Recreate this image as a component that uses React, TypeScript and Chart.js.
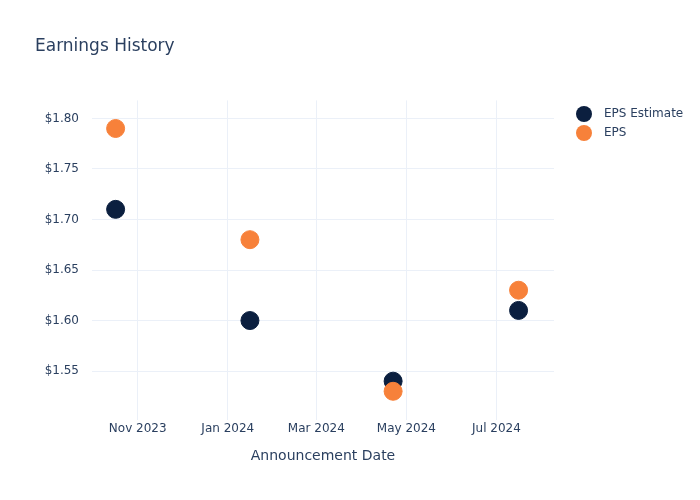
import React, { useEffect, useRef } from "react";
import { Chart, registerables } from "chart.js";

Chart.register(...registerables);

const announcementDates = ["2023-10-17", "2024-01-16", "2024-04-22", "2024-07-16"];
const epsEstimate = [1.71, 1.6, 1.54, 1.61];
const epsActual = [1.79, 1.68, 1.53, 1.63];
const xTickDates = ["2023-11-01", "2024-01-01", "2024-03-01", "2024-05-01", "2024-07-01"];
const xTickLabels = ["Nov 2023", "Jan 2024", "Mar 2024", "May 2024", "Jul 2024"];
const yTickValues = [1.55, 1.6, 1.65, 1.7, 1.75, 1.8];
const yTickLabels = ["$1.55", "$1.60", "$1.65", "$1.70", "$1.75", "$1.80"];
const xRange = ["2023-10-01", "2024-08-09"];
const yRange = [1.5016, 1.8178];
const seriesNames = ["EPS Estimate", "EPS"];
const seriesColors = ["#0b1f3f", "#f7813a"];

const t = (s: string) => Date.parse(s + "T00:00:00Z");
const FONT = "'DejaVu Sans', sans-serif";
const TEXT = "#2a3f5f";
const GRID = "#ebf0f8";

const legendPlugin = {
  id: "customLegend",
  afterDraw(chart: any) {
    const ctx = chart.ctx;
    const x0 = chart.chartArea.right + 30;
    const y0 = 114;
    ctx.save();
    ctx.font = `12px ${FONT}`;
    ctx.textBaseline = "middle";
    ctx.textAlign = "left";
    seriesNames.forEach((name, i) => {
      const y = y0 + i * 19;
      ctx.beginPath();
      ctx.arc(x0, y, 8, 0, Math.PI * 2);
      ctx.fillStyle = seriesColors[i];
      ctx.fill();
      ctx.fillStyle = TEXT;
      ctx.fillText(name, x0 + 20, y);
    });
    ctx.restore();
  },
};

export default function App() {
  const ref = useRef<HTMLCanvasElement | null>(null);
  useEffect(() => {
    if (!ref.current) return;
    const chart = new Chart(ref.current, {
      type: "scatter",
      data: {
        datasets: [
          {
            label: seriesNames[0],
            data: announcementDates.map((d, i) => ({ x: t(d), y: epsEstimate[i] })),
            backgroundColor: seriesColors[0],
            borderColor: seriesColors[0],
            pointRadius: 9,
            pointHoverRadius: 9,
            order: 2,
          },
          {
            label: seriesNames[1],
            data: announcementDates.map((d, i) => ({ x: t(d), y: epsActual[i] })),
            backgroundColor: seriesColors[1],
            borderColor: seriesColors[1],
            pointRadius: 9,
            pointHoverRadius: 9,
            order: 1,
          },
        ],
      },
      options: {
        animation: false,
        responsive: false,
        layout: { padding: { left: 35, right: 146, top: 0, bottom: 0 } },
        plugins: {
          tooltip: { enabled: false },
          legend: { display: false },
          title: {
            display: true,
            text: "Earnings History",
            align: "start",
            color: TEXT,
            font: { family: FONT, size: 17, weight: "normal" },
            padding: { top: 36, bottom: 44 },
          },
        },
        scales: {
          x: {
            type: "linear",
            min: t(xRange[0]),
            max: t(xRange[1]),
            afterBuildTicks: (scale: any) => {
              scale.ticks = xTickDates.map((d) => ({ value: t(d) }));
            },
            afterFit: (scale: any) => {
              scale.height = 80;
            },
            ticks: {
              color: TEXT,
              font: { family: FONT, size: 12 },
              padding: 2,
              maxRotation: 0,
              autoSkip: false,
              callback: (v: any) => {
                const i = xTickDates.findIndex((d) => t(d) === v);
                return i >= 0 ? xTickLabels[i] : "";
              },
            },
            grid: { color: GRID, drawTicks: false },
            border: { display: false },
            title: {
              display: true,
              text: "Announcement Date",
              color: TEXT,
              font: { family: FONT, size: 14 },
              padding: { top: 0, bottom: 35 },
            },
          },
          y: {
            type: "linear",
            min: yRange[0],
            max: yRange[1],
            afterBuildTicks: (scale: any) => {
              scale.ticks = yTickValues.map((v) => ({ value: v }));
            },
            afterFit: (scale: any) => {
              scale.width = 57;
            },
            ticks: {
              color: TEXT,
              font: { family: FONT, size: 12 },
              padding: 13,
              autoSkip: false,
              callback: (v: any) => {
                const i = yTickValues.findIndex((x) => Math.abs(x - v) < 1e-9);
                return i >= 0 ? yTickLabels[i] : "";
              },
            },
            grid: { color: GRID, drawTicks: false },
            border: { display: false },
          },
        },
      } as any,
      plugins: [legendPlugin],
    });
    return () => chart.destroy();
  }, []);
  return (
    <div style={{ position: "absolute", left: 0, top: 0, width: 700, height: 500, background: "#fff" }}>
      <canvas ref={ref} width={700} height={500} style={{ width: 700, height: 500 }} />
    </div>
  );
}
